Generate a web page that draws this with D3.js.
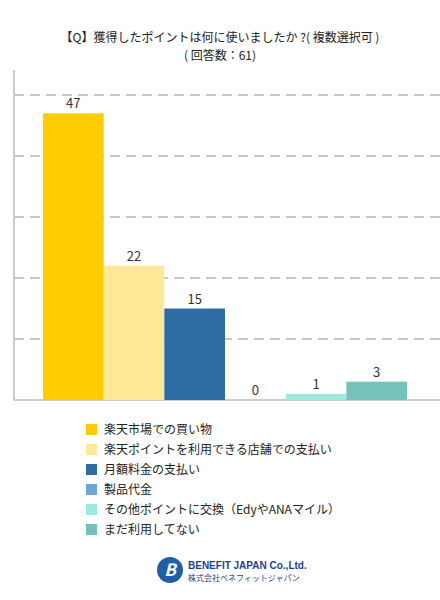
<!DOCTYPE html>
<html><head><meta charset="utf-8">
<script src="https://cdn.jsdelivr.net/npm/d3@7"></script>
<style>body{margin:0;background:#fff;font-family:"Noto Sans CJK JP","Noto Sans",sans-serif}</style>
</head><body><svg id="c" width="440" height="600"></svg>
<script>
var categories = ['楽天市場での買い物','楽天ポイントを利用できる店舗での支払い','月額料金の支払い','製品代金','その他ポイントに交換（EdyやANAマイル）','まだ利用してない'];
var values = [47, 22, 15, 0, 1, 3];
var colors = ['#FFCC00','#FFE897','#2E6DA4','#6FA6D6','#9BEBDD','#73C3B9'];
var gridTicks = [10, 20, 30, 40, 50];

var svg = d3.select('#c');
svg.append('text').attr('x', 220).attr('y', 42).attr('text-anchor','middle').attr('font-size',12).attr('fill','#222')
  .text('【Q】獲得したポイントは何に使いましたか ?( 複数選択可 )');
svg.append('text').attr('x', 220).attr('y', 60).attr('text-anchor','middle').attr('font-size',12).attr('fill','#222')
  .text('( 回答数：61)');

var x = d3.scaleBand().domain(d3.range(values.length)).range([43, 407]).padding(0);
var y = d3.scaleLinear().domain([0, 50]).range([400, 95]);

svg.selectAll('.grid').data(gridTicks).enter().append('line')
  .attr('x1', 14).attr('x2', 440).attr('y1', d => y(d)).attr('y2', d => y(d))
  .attr('stroke', '#c8c8c8').attr('stroke-width', 2).attr('stroke-dasharray', '10,6');
svg.append('line').attr('x1',14).attr('x2',14).attr('y1',70).attr('y2',400).attr('stroke','#ccc').attr('stroke-width',2);
svg.append('line').attr('x1',14).attr('x2',440).attr('y1',400).attr('y2',400).attr('stroke','#ccc').attr('stroke-width',2);

svg.selectAll('.bar').data(values).enter().append('rect')
  .attr('x', (d,i) => x(i)).attr('width', x.bandwidth())
  .attr('y', d => y(d)).attr('height', d => y(0) - y(d))
  .attr('fill', (d,i) => colors[i]);
svg.selectAll('.lbl').data(values).enter().append('text')
  .attr('x', (d,i) => x(i) + x.bandwidth()/2).attr('y', d => y(d) - 5)
  .attr('text-anchor','middle').attr('font-size',13).attr('fill','#333').text(d => d);

var lg = svg.selectAll('.lg').data(categories).enter().append('g')
  .attr('transform', (d,i) => 'translate(86,' + (424 + i*20) + ')');
lg.append('rect').attr('width',11).attr('height',11).attr('fill',(d,i)=>colors[i]);
lg.append('text').attr('x',18).attr('y',10).attr('font-size',12).attr('fill','#222').text(d=>d);

// logo
var logo = svg.append('g').attr('transform','translate(170,570)');
logo.append('circle').attr('r',13).attr('fill','#1f5fa8');
logo.append('text').attr('x',0).attr('y',6).attr('text-anchor','middle').attr('font-size',17).attr('font-weight','bold').attr('fill','#fff').attr('font-style','italic').text('B');
logo.append('text').attr('x',18).attr('y',-1).attr('font-size',10).attr('font-weight','bold').attr('fill','#1f3f8f').attr('font-family','Liberation Sans').text('BENEFIT JAPAN Co.,Ltd.');
logo.append('text').attr('x',18).attr('y',11).attr('font-size',8).attr('fill','#1f3f8f').text('株式会社ベネフィットジャパン');
</script></body></html>
